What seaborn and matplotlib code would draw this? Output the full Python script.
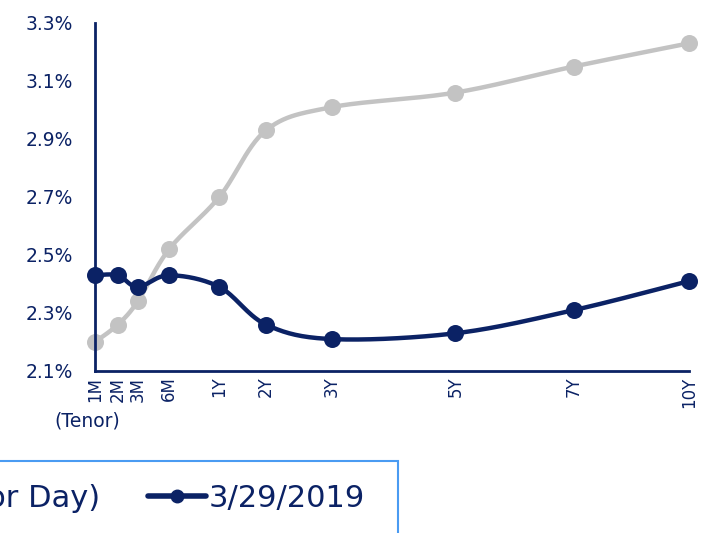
import numpy as np
import pandas as pd
import matplotlib
matplotlib.use("Agg")
import matplotlib.pyplot as plt
from matplotlib.lines import Line2D
from matplotlib.patches import Rectangle
from matplotlib.ticker import FixedLocator, MultipleLocator, FuncFormatter
import seaborn as sns

# ── data ────────────────────────────────────────────────────────────────────
tenor_labels = ["1M", "2M", "3M", "6M", "1Y", "2Y", "3Y", "5Y", "7Y", "10Y"]
tenor_pos    = [0, 0.40, 0.75, 1.30, 2.18, 3.00, 4.16, 6.32, 8.40, 10.42]   # axis value of each tenor
investor_day = [2.20, 2.26, 2.34, 2.52, 2.70, 2.93, 3.01, 3.06, 3.15, 3.23]
mar_2019     = [2.43, 2.43, 2.39, 2.43, 2.39, 2.26, 2.21, 2.23, 2.31, 2.41]
series_names = ["11/15/2018 (Investor Day)", "3/29/2019"]

NAVY = "#0B2265"
GRAY = "#C3C3C3"

sns.set_style("white")
plt.rcParams["font.family"] = ["DejaVu Sans"]


def smooth(x, y, n=30):
    # Excel-style smoothed line (cubic Bezier with Catmull-Rom control points)
    x = np.asarray(x, float)
    y = np.asarray(y, float)
    px = np.concatenate([[x[0]], x, [x[-1]]])
    py = np.concatenate([[y[0]], y, [y[-1]]])
    t = np.linspace(0, 1, n)[:, None]
    xs, ys = [], []
    for i in range(1, len(px) - 2):
        p0 = np.array([px[i], py[i]])
        p3 = np.array([px[i + 1], py[i + 1]])
        c1 = p0 + (np.array([px[i + 1], py[i + 1]]) - np.array([px[i - 1], py[i - 1]])) / 6
        c2 = p3 - (np.array([px[i + 2], py[i + 2]]) - np.array([px[i], py[i]])) / 6
        b = ((1 - t) ** 3) * p0 + 3 * ((1 - t) ** 2) * t * c1 + 3 * (1 - t) * t ** 2 * c2 + t ** 3 * p3
        xs.append(b[:, 0])
        ys.append(b[:, 1])
    return np.concatenate(xs), np.concatenate(ys)


fig = plt.figure(figsize=(7.08, 5.33), dpi=100)
ax = fig.add_axes([95 / 708, 1 - 371 / 533, (689 - 95) / 708, (371 - 23) / 533])

for vals, color, z in [(investor_day, GRAY, 2), (mar_2019, NAVY, 3)]:
    sx, sy = smooth(tenor_pos, vals)
    sns.lineplot(x=sx, y=sy, ax=ax, color=color, linewidth=3.2, sort=False,
                 legend=False, zorder=z)
    df = pd.DataFrame({"x": tenor_pos, "y": vals})
    sns.scatterplot(data=df, x="x", y="y", ax=ax, color=color, s=150,
                    edgecolor=color, linewidth=0, zorder=z + 0.5, clip_on=False,
                    legend=False)

ax.set_xlim(tenor_pos[0], tenor_pos[-1])
ax.set_ylim(2.1, 3.3)
ax.set_xlabel("")
ax.set_ylabel("")

# y axis: labelled every 0.2, ticks every 0.1
ax.yaxis.set_major_locator(FixedLocator([2.1, 2.3, 2.5, 2.7, 2.9, 3.1, 3.3]))
ax.yaxis.set_minor_locator(MultipleLocator(0.1))
ax.yaxis.set_major_formatter(FuncFormatter(lambda v, p: f"{v:.1f}%"))
ax.tick_params(axis="y", which="both", direction="out", length=6, width=1.5,
               color=NAVY, labelcolor=NAVY, labelsize=13.5, pad=10)

ax.set_xticks(tenor_pos)
ax.set_xticklabels(tenor_labels, rotation=90, va="top", ha="center")
ax.tick_params(axis="x", direction="in", length=5, width=1.2, color=NAVY,
               labelcolor=NAVY, labelsize=12, pad=4)

for side in ["top", "right"]:
    ax.spines[side].set_visible(False)
for side in ["left", "bottom"]:
    ax.spines[side].set_color(NAVY)
    ax.spines[side].set_linewidth(2.0)

fig.text(87 / 708, 1 - 421 / 533, "(Tenor)", color=NAVY, fontsize=13.5,
         ha="center", va="center")

# legend: box runs off the left and bottom edges of the picture
handles = [
    Line2D([], [], color=GRAY, linewidth=4, marker="o", markersize=9),
    Line2D([], [], color=NAVY, linewidth=4, marker="o", markersize=9),
]
fig.legend(handles, series_names, ncol=2, loc="upper right",
           bbox_to_anchor=(365 / 708, 1 - 484 / 533), borderaxespad=0,
           borderpad=0, fontsize=22, frameon=False, handlelength=1.9,
           handletextpad=0.1, columnspacing=1.55, labelcolor=NAVY)
fig.patches.append(Rectangle((-0.05, -0.05), 398 / 708 + 0.05, 1 - 461 / 533 + 0.05,
                             transform=fig.transFigure, fill=False,
                             edgecolor="#4A9BF2", linewidth=1.5))

fig.savefig("out.png", dpi=100)
